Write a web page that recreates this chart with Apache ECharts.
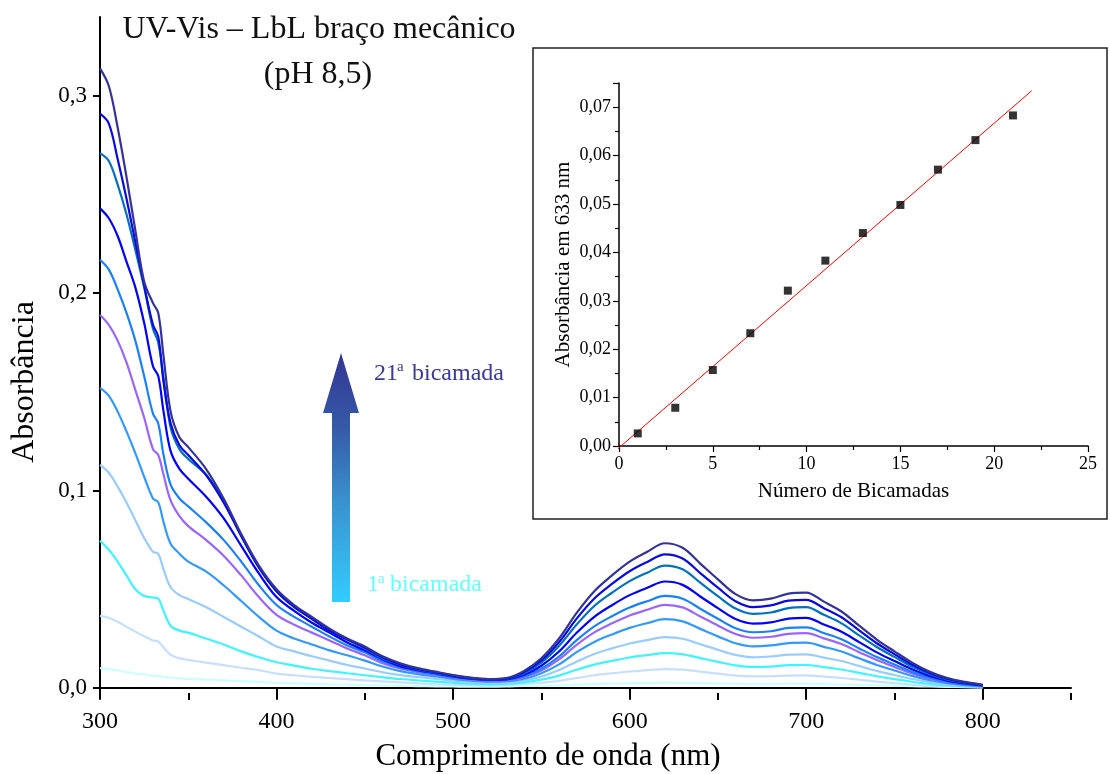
<!DOCTYPE html>
<html>
<head>
<meta charset="utf-8">
<script src="https://cdn.jsdelivr.net/npm/echarts@6/dist/echarts.min.js"></script>
<style>
html,body{margin:0;padding:0;background:#fff;}
#chart{width:1110px;height:774px;}
</style>
</head>
<body>
<div id="chart"></div>
<script>
// ---------- DATA ----------
const wavelengths = [300,305,310,315,320,325,330,333,336,340,345,350,360,370,380,390,400,410,420,430,440,450,460,470,480,490,500,510,520,530,
  540,550,560,570,580,590,600,610,620,630,640,650,660,670,680,690,700,710,720,730,740,750,760,770,780,790,800];

const abs01 = [.0100,.0095,.0088,.0080,.0073,.0068,.0062,.0060,.0056,.0052,.0048,.0046,.0042,.0038,.0034,.0030,.0026,.0023,.0020,.0018,.0016,.0014,.0012,.0010,.0009,.0008,.0007,.0006,.0006,.0007,
  .0010,.0011,.0013,.0016,.0019,.0021,.0023,.0025,.0027,.0026,.0024,.0022,.0020,.0019,.0019,.0020,.0020,.0019,.0017,.0015,.0013,.0011,.0009,.0007,.0005,.0004,.0003];
const abs03 = [.0365,.0355,.0335,.0310,.0285,.0262,.0240,.0235,.0205,.0168,.0150,.0142,.0128,.0115,.0102,.0090,.0072,.0064,.0056,.0050,.0044,.0038,.0033,.0028,.0023,.0019,.0016,.0013,.0011,.0013,
  .0020,.0026,.0035,.0050,.0064,.0074,.0083,.0090,.0095,.0092,.0082,.0072,.0062,.0058,.0059,.0062,.0063,.0057,.0050,.0041,.0032,.0024,.0017,.0011,.0007,.0005,.0003];
const abs05 = [.0746,.0700,.0640,.0570,.0500,.0465,.0458,.0452,.0390,.0315,.0290,.0280,.0250,.0220,.0185,.0155,.0130,.0113,.0097,.0085,.0074,.0064,.0054,.0045,.0038,.0032,.0026,.0021,.0018,.0020,
  .0028,.0042,.0062,.0092,.0118,.0137,.0154,.0166,.0176,.0170,.0151,.0132,.0114,.0106,.0108,.0115,.0116,.0105,.0093,.0076,.0059,.0044,.0031,.0020,.0012,.0008,.0005];
const abs07 = [.113,.109,.102,.094,.085,.076,.069,.068,.060,.051,.047,.045,.041,.036,.031,.026,.021,.0185,.016,.0138,.0116,.0098,.0079,.0065,.0055,.0046,.0037,.0030,.0025,.0027,
  .0036,.0057,.0090,.0133,.0172,.0200,.0225,.0242,.0257,.0249,.0221,.0193,.0167,.0155,.0159,.0168,.0170,.0153,.0136,.0111,.0086,.0065,.0045,.0029,.0018,.0011,.0006];
const abs09 = [.152,.148,.140,.130,.119,.107,.096,.094,.084,.073,.068,.064,.059,.052,.044,.036,.029,.025,.022,.019,.0165,.0138,.0108,.0085,.0070,.0058,.0046,.0037,.0031,.0034,
  .0045,.0074,.0119,.0181,.0233,.0271,.0304,.0328,.0348,.0337,.0299,.0261,.0226,.0210,.0215,.0227,.0229,.0208,.0184,.0150,.0116,.0088,.0061,.0039,.0024,.0014,.0008];
const abs11 = [.189,.184,.176,.165,.151,.137,.121,.118,.108,.095,.087,.082,.075,.067,.057,.046,.037,.032,.028,.024,.020,.0165,.0125,.0098,.0080,.0066,.0052,.0042,.0035,.0038,
  .0053,.0088,.0144,.0218,.0281,.0327,.0367,.0396,.0421,.0408,.0362,.0316,.0273,.0254,.0259,.0274,.0277,.0251,.0222,.0181,.0141,.0106,.0073,.0047,.0029,.0017,.0009];
const abs13 = [.217,.212,.202,.190,.176,.158,.139,.134,.118,.103,.096,.092,.084,.075,.064,.052,.042,.036,.031,.026,.0215,.018,.0135,.0105,.0085,.0070,.0055,.0045,.0038,.0041,
  .0058,.0097,.0159,.0242,.0312,.0363,.0407,.0439,.0466,.0452,.0401,.0350,.0302,.0282,.0287,.0304,.0307,.0278,.0246,.0200,.0156,.0118,.0081,.0052,.0032,.0019,.0010];
const abs15 = [.243,.238,.229,.216,.203,.185,.163,.158,.140,.120,.111,.106,.097,.086,.072,.058,.046,.039,.033,.028,.023,.019,.0145,.011,.0090,.0074,.0058,.0047,.0040,.0043,
  .0065,.0112,.0184,.0279,.0360,.0419,.0470,.0507,.0539,.0522,.0463,.0404,.0349,.0326,.0332,.0351,.0355,.0321,.0284,.0232,.0180,.0136,.0094,.0060,.0037,.0022,.0012];
const abs17 = [.271,.267,.255,.240,.222,.203,.182,.175,.157,.132,.121,.116,.108,.095,.077,.061,.049,.041,.035,.029,.0245,.020,.015,.0118,.0094,.0077,.0060,.0049,.0042,.0046,
  .0073,.0128,.0212,.0321,.0415,.0482,.0541,.0584,.0620,.0601,.0533,.0465,.0402,.0375,.0382,.0404,.0409,.0370,.0327,.0266,.0207,.0157,.0108,.0069,.0042,.0026,.0013];
const abs19 = [.291,.286,.268,.248,.226,.204,.184,.178,.155,.134,.123,.118,.108,.094,.077,.061,.049,.041,.035,.029,.0245,.0205,.0155,.012,.0096,.0079,.0062,.0050,.0043,.0047,
  .0079,.0139,.0231,.0351,.0453,.0527,.0591,.0638,.0677,.0656,.0582,.0508,.0439,.0409,.0418,.0442,.0446,.0404,.0358,.0291,.0226,.0171,.0118,.0076,.0046,.0028,.0014];
const abs21 = [.314,.305,.284,.259,.232,.206,.195,.190,.168,.140,.127,.122,.111,.096,.078,.062,.050,.042,.036,.030,.025,.021,.016,.0125,.0100,.0082,.0065,.0052,.0045,.0050,
  .0085,.0150,.025,.038,.049,.057,.064,.069,.0733,.071,.063,.055,.0475,.0443,.0452,.0478,.0483,.0437,.0387,.0315,.0245,.0185,.0128,.0082,.0050,.0030,.0015];

const mainXTicks = [300,400,500,600,700,800];
const mainXMinorTicks = [350,450,550,650,750,850];
const mainYTicks = [0,0.1,0.2,0.3];

// inset data
const bilayers = [1,3,5,7,9,11,13,15,17,19,21];
const absAt633 = [0.0026,0.0079,0.0157,0.0233,0.0321,0.0383,0.0440,0.0498,0.0571,0.0632,0.0683];
const fitLineX = [-0.1, 22];
const fitLineY = [-0.0007, 0.0734];

// ---------- STYLE ----------
const spectra = [abs01,abs03,abs05,abs07,abs09,abs11,abs13,abs15,abs17,abs19,abs21];
const colors = ['#ccffff','#c6dfff','#40f4ff','#99ccff','#3399ff','#9966ff','#1a80ff','#0000ff','#0070c0','#0a0ae0','#333399'];
const FONT = '"Liberation Serif", "Times New Roman", serif';

const chart = echarts.init(document.getElementById('chart'), null, {renderer:'canvas'});

const series = spectra.map((arr, i) => ({
  type: 'line',
  xAxisIndex: 0, yAxisIndex: 0,
  data: wavelengths.map((w, j) => [w, arr[j]]),
  showSymbol: false,
  smooth: 0.35,
  lineStyle: {color: colors[i], width: 2.2},
  z: 2 + i,
  silent: true
}));

series.push({
  type: 'line', xAxisIndex: 2, yAxisIndex: 1,
  data: fitLineX.map((x, i) => [x, fitLineY[i]]),
  showSymbol: false, clip: false,
  lineStyle: {color: '#ff0000', width: 1},
  z: 20, silent: true
});
series.push({
  type: 'scatter', xAxisIndex: 2, yAxisIndex: 1,
  data: bilayers.map((b, i) => [b, absAt633[i]]),
  symbol: 'rect', symbolSize: 8,
  itemStyle: {color: '#000'},
  z: 21, silent: true
});

const comma = (v, d) => v.toFixed(d).replace('.', ',');

const option = {
  animation: false,
  backgroundColor: '#fff',
  grid: [
    {left: 100, right: 39, top: 17, bottom: 81},
    {left: 619, right: 22, top: 83, bottom: 328}
  ],
  xAxis: [
    {
      gridIndex: 0, type: 'value', min: 300, max: 850,
      axisLine: {lineStyle: {color: '#000', width: 2}},
      axisTick: {customValues: mainXTicks, length: 12, lineStyle: {color: '#000', width: 2}},
      axisLabel: {customValues: mainXTicks, color: '#000', fontFamily: FONT, fontSize: 24, margin: 17},
      splitLine: {show: false}
    },
    {
      gridIndex: 0, type: 'value', min: 300, max: 850, position: 'bottom',
      axisLine: {show: false},
      axisTick: {customValues: mainXMinorTicks, length: 7, lineStyle: {color: '#000', width: 2}},
      axisLabel: {show: false},
      splitLine: {show: false}
    },
    {
      gridIndex: 1, type: 'value', min: 0, max: 25, interval: 5,
      axisLine: {onZero: false, lineStyle: {color: '#000', width: 1.5}},
      axisTick: {length: 6, lineStyle: {color: '#000', width: 1.2}},
      minorTick: {show: true, splitNumber: 2, length: 4, lineStyle: {color: '#000', width: 1.2}},
      axisLabel: {color: '#000', fontFamily: FONT, fontSize: 18, margin: 9},
      splitLine: {show: false},
      name: 'Número de Bicamadas', nameLocation: 'middle', nameGap: 35,
      nameTextStyle: {color: '#000', fontFamily: FONT, fontSize: 21}
    }
  ],
  yAxis: [
    {
      gridIndex: 0, type: 'value', min: -0.0026, max: 0.34,
      axisLine: {show: true, lineStyle: {color: '#000', width: 2}},
      axisTick: {show: true, customValues: mainYTicks, length: 7, lineStyle: {color: '#000', width: 2}},
      axisLabel: {customValues: mainYTicks, color: '#000', fontFamily: FONT, fontSize: 23, margin: 13,
        formatter: v => comma(v, 1)},
      splitLine: {show: false}
    },
    {
      gridIndex: 1, type: 'value', min: 0, max: 0.075, interval: 0.01,
      axisLine: {show: true, onZero: false, lineStyle: {color: '#000', width: 1.5}},
      axisTick: {show: true, length: 6, lineStyle: {color: '#000', width: 1.2}},
      minorTick: {show: true, splitNumber: 2, length: 4, lineStyle: {color: '#000', width: 1.2}},
      axisLabel: {color: '#000', fontFamily: FONT, fontSize: 18, margin: 8,
        formatter: v => (Math.abs(v * 100 - Math.round(v * 100)) < 1e-6 ? comma(v, 2) : '')},
      splitLine: {show: false},
      name: 'Absorbância em 633 nm', nameLocation: 'middle', nameGap: 45, nameRotate: 90,
      nameTextStyle: {color: '#000', fontFamily: FONT, fontSize: 21}
    }
  ],
  graphic: [
    {type: 'rect', shape: {x: 533, y: 48, width: 574, height: 471},
      style: {fill: 'none', stroke: '#222', lineWidth: 1.5}, z: 1},
    {type: 'text', x: 319, y: 30, style: {text: 'UV-Vis – LbL braço mecânico', font: '32px ' + FONT, fill: '#111', align: 'center', verticalAlign: 'middle'}},
    {type: 'text', x: 318, y: 75, style: {text: '(pH 8,5)', font: '32px ' + FONT, fill: '#111', align: 'center', verticalAlign: 'middle'}},
    {type: 'text', x: 25, y: 382, rotation: Math.PI / 2, style: {text: 'Absorbância', font: '32px ' + FONT, fill: '#000', align: 'center', verticalAlign: 'middle'}},
    {type: 'text', x: 548, y: 757, style: {text: 'Comprimento de onda (nm)', font: '31px ' + FONT, fill: '#000', align: 'center', verticalAlign: 'middle'}},
    {type: 'polygon', shape: {points: [[341,353],[359,413],[350,413],[350,602],[332,602],[332,413],[323,413]]},
      style: {fill: new echarts.graphic.LinearGradient(0, 0, 0, 1, [
        {offset: 0, color: '#343592'}, {offset: 0.3, color: '#355aa8'}, {offset: 0.6, color: '#3a92cf'}, {offset: 1, color: '#33ccff'}])}},
    {type: 'text', x: 374, y: 374, style: {text: '21', font: '24px ' + FONT, fill: '#3a3a99', verticalAlign: 'middle'}},
    {type: 'text', x: 397, y: 367, style: {text: 'a', font: '15px ' + FONT, fill: '#3a3a99', verticalAlign: 'middle'}},
    {type: 'text', x: 412, y: 374, style: {text: 'bicamada', font: '24px ' + FONT, fill: '#3a3a99', verticalAlign: 'middle'}},
    {type: 'text', x: 367, y: 585, style: {text: '1', font: '24px ' + FONT, fill: '#66ffff', verticalAlign: 'middle'}},
    {type: 'text', x: 378, y: 579, style: {text: 'a', font: '15px ' + FONT, fill: '#66ffff', verticalAlign: 'middle'}},
    {type: 'text', x: 390, y: 585, style: {text: 'bicamada', font: '24px ' + FONT, fill: '#66ffff', verticalAlign: 'middle'}}
  ],
  series: series
};
chart.setOption(option);
</script>
</body>
</html>
